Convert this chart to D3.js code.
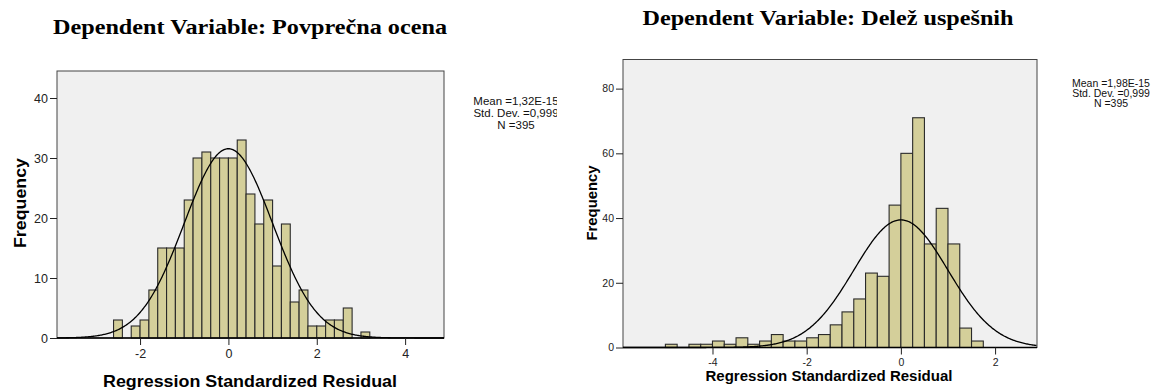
<!DOCTYPE html>
<html>
<head>
<meta charset="utf-8">
<script src="https://cdn.jsdelivr.net/npm/d3@7"></script>
<style>
  body { margin: 0; background: #fff; }
  svg { display: block; }
</style>
</head>
<body>
<div id="chart"></div>
<script>
// residual histograms, counts
var leftTitle = "Dependent Variable: Povprečna ocena";
var leftBinStart = -2.6;
var leftBinWidth = 0.2;
var leftCounts = [3, 0, 2, 3, 8, 15, 15, 15, 23, 30, 31, 30, 30, 30, 33, 24, 19, 23, 12, 19, 6, 8, 2, 2, 3, 3, 5, 0, 1];
var leftXTicks = [-2, 0, 2, 4];
var leftYTicks = [0, 10, 20, 30, 40];
var leftStats = [1.32e-15, 0.999, 395];
var leftLegend = ["Mean =1,32E-15", "Std. Dev. =0,999", "N =395"];

var rightTitle = "Dependent Variable: Delež uspešnih";
var rightBinStart = -5.0;
var rightBinWidth = 0.25;
var rightCounts = [1, 0, 1, 1, 2, 1, 3, 1, 2, 4, 2, 2, 3, 4, 7, 11, 15, 23, 22, 44, 60, 71, 32, 43, 32, 6, 2];
var rightXTicks = [-4, -2, 0, 2];
var rightYTicks = [0, 20, 40, 60, 80];
var rightStats = [1.98e-15, 0.999, 395];
var rightLegend = ["Mean =1,98E-15", "Std. Dev. =0,999", "N =395"];

var xLabel = "Regression Standardized Residual";
var yLabel = "Frequency";

var svg = d3.select("#chart")
  .append("svg")
    .attr("width", 1156)
    .attr("height", 392);

var sans = "'Liberation Sans', Arial, sans-serif";

var drawPanel = function(p) {
  var x = d3.scaleLinear().domain(p.xDomain).range([p.left, p.right]);
  var y = d3.scaleLinear().domain(p.yDomain).range([p.bottom, p.top]);

  svg.append("text")
    .attr("x", p.titleX).attr("y", p.titleY)
    .attr("text-anchor", "middle")
    .attr("textLength", p.titleLen)
    .attr("lengthAdjust", "spacingAndGlyphs")
    .style("font-family", "'Liberation Serif', 'Times New Roman', serif")
    .style("font-weight", "bold")
    .style("font-size", p.titleSize + "px")
    .text(p.title);

  svg.append("rect")
    .attr("x", p.left).attr("y", p.top)
    .attr("width", p.right - p.left).attr("height", p.bottom - p.top)
    .attr("fill", "#f0f0f0")
    .attr("stroke", "#444")
    .attr("stroke-width", 1);

  var bins = p.counts.map(function(c, i) {
    return { x0: p.binStart + i * p.binWidth, x1: p.binStart + (i + 1) * p.binWidth, n: c };
  }).filter(function(b) { return b.n > 0; });

  svg.append("g").selectAll("rect")
    .data(bins)
    .enter().append("rect")
      .attr("x", function(d) { return x(d.x0); })
      .attr("y", function(d) { return y(d.n); })
      .attr("width", function(d) { return x(d.x1) - x(d.x0); })
      .attr("height", function(d) { return y(0) - y(d.n); })
      .attr("fill", "#d4cf9a")
      .attr("stroke", "#2a2a2a")
      .attr("stroke-width", 1.1);

  // fitted normal curve from the mean, sd and N in the legend
  var mean = p.stats[0], sd = p.stats[1], n = p.stats[2];
  var xs = d3.range(p.xDomain[0], p.xDomain[1] + 0.001, 0.02);
  svg.append("path")
    .datum(xs)
    .attr("fill", "none")
    .attr("stroke", "#000")
    .attr("stroke-width", 1.3)
    .attr("d", d3.line()
      .x(function(v) { return x(v); })
      .y(function(v) {
        var z = (v - mean) / sd;
        return y(n * p.binWidth * Math.exp(-0.5 * z * z) / (sd * Math.sqrt(2 * Math.PI)));
      }));

  svg.append("line")
    .attr("x1", p.left).attr("x2", p.right)
    .attr("y1", p.bottom).attr("y2", p.bottom)
    .attr("stroke", "#000").attr("stroke-width", 1.6);

  var ya = svg.append("g")
    .attr("transform", "translate(" + p.left + ",0)")
    .call(d3.axisLeft(y).tickValues(p.yTicks).tickSize(7).tickPadding(2).tickFormat(String));
  var xa = svg.append("g")
    .attr("transform", "translate(0," + p.bottom + ")")
    .call(d3.axisBottom(x).tickValues(p.xTicks).tickSize(7).tickPadding(4).tickFormat(String));
  [ya, xa].forEach(function(a) {
    a.select(".domain").remove();
    a.selectAll("line").attr("stroke", "#222");
    a.selectAll("text")
      .attr("fill", "#222")
      .style("font-family", sans)
      .style("font-size", p.tickSize + "px");
  });

  svg.append("text")
    .attr("x", p.xLabelX).attr("y", p.xLabelY)
    .attr("text-anchor", "middle")
    .attr("textLength", p.xLabelLen)
    .attr("lengthAdjust", "spacingAndGlyphs")
    .style("font-family", sans)
    .style("font-weight", "bold")
    .style("font-size", p.labelSize + "px")
    .text(xLabel);

  svg.append("text")
    .attr("transform", "translate(" + p.yLabelX + "," + p.yLabelY + ") rotate(-90)")
    .attr("text-anchor", "middle")
    .attr("textLength", p.yLabelLen)
    .attr("lengthAdjust", "spacingAndGlyphs")
    .style("font-family", sans)
    .style("font-weight", "bold")
    .style("font-size", p.labelSize + "px")
    .text(yLabel);

  var clipId = "clip" + p.id;
  svg.append("clipPath").attr("id", clipId)
    .append("rect")
      .attr("x", p.right + 1).attr("y", 0)
      .attr("width", p.legendClip - p.right - 1).attr("height", 200);
  svg.append("g")
    .attr("clip-path", "url(#" + clipId + ")")
    .selectAll("text")
    .data(p.legend)
    .enter().append("text")
      .attr("x", p.legendX)
      .attr("y", function(d, i) { return p.legendY + i * p.legendStep; })
      .attr("text-anchor", "middle")
      .attr("fill", "#111")
      .style("font-family", sans)
      .style("font-size", p.legendSize + "px")
      .text(function(d) { return d; });
};

drawPanel({
  id: 1, title: leftTitle, titleX: 250, titleY: 34, titleSize: 22, titleLen: 394,
  left: 57, right: 444, top: 71, bottom: 338,
  xDomain: [-3.88, 4.88], yDomain: [0, 44.5],
  binStart: leftBinStart, binWidth: leftBinWidth, counts: leftCounts,
  stats: leftStats, xTicks: leftXTicks, yTicks: leftYTicks, tickSize: 12.5,
  labelSize: 16.5, xLabelX: 250, xLabelY: 387, xLabelLen: 294,
  yLabelX: 26, yLabelY: 203, yLabelLen: 90,
  legend: leftLegend, legendX: 516, legendY: 105, legendStep: 12, legendSize: 11.5, legendClip: 557
});

drawPanel({
  id: 2, title: rightTitle, titleX: 828, titleY: 25, titleSize: 22, titleLen: 371,
  left: 623, right: 1037, top: 59.5, bottom: 347.5,
  xDomain: [-5.9, 2.89], yDomain: [0, 89],
  binStart: rightBinStart, binWidth: rightBinWidth, counts: rightCounts,
  stats: rightStats, xTicks: rightXTicks, yTicks: rightYTicks, tickSize: 10.5,
  labelSize: 14, xLabelX: 829, xLabelY: 381, xLabelLen: 247,
  yLabelX: 597, yLabelY: 203, yLabelLen: 75,
  legend: rightLegend, legendX: 1111, legendY: 86.7, legendStep: 10.2, legendSize: 10.5, legendClip: 1156
});
</script>
</body>
</html>
